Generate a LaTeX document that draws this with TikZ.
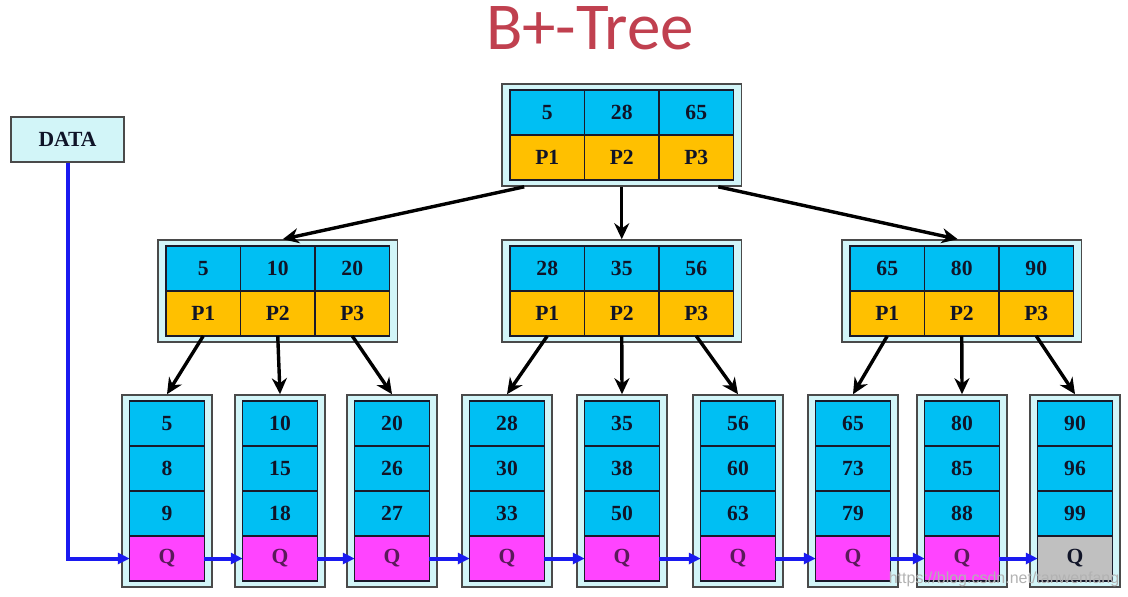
\documentclass[tikz,border=0pt]{standalone}
\usepackage{fontspec}
\setmainfont{Liberation Serif}
\newfontfamily\titlefont{Carlito}
\newfontfamily\markfont{Liberation Sans}
\usetikzlibrary{arrows.meta, positioning, fit, backgrounds}
\definecolor{keyblue}{HTML}{00BFF3}
\definecolor{ptrgold}{HTML}{FFC000}
\definecolor{qpink}{HTML}{FF44FF}
\definecolor{endgray}{HTML}{C0C0C0}
\definecolor{framecyan}{HTML}{D2F5F8}
\definecolor{framegray}{HTML}{4A4A4A}
\definecolor{cellline}{HTML}{1A1A2A}
\definecolor{textnavy}{HTML}{101428}
\definecolor{qtext}{HTML}{5A1A5A}
\definecolor{linkblue}{HTML}{1A1AF0}
\definecolor{titlered}{HTML}{C0404F}
\tikzset{
  keycell/.style={rectangle, draw=cellline, fill=keyblue, text=textnavy, line width=0.7pt, minimum width=37.25pt, minimum height=22.5pt, inner sep=0pt, outer sep=0pt, font=\fontsize{10.8pt}{12pt}\selectfont\bfseries},
  ptrcell/.style={keycell, fill=ptrgold},
  nodeframe/.style={rectangle, draw=framegray, fill=framecyan, line width=0.8pt, inner xsep=4pt, inner ysep=3pt},
  databox/.style={rectangle, draw=framegray, fill=framecyan, text=textnavy, line width=0.8pt, minimum width=56.5pt, minimum height=22.5pt, font=\fontsize{10.8pt}{12pt}\selectfont\bfseries},
  arrow/.style={-{Stealth[length=8pt, width=7.5pt]}, line width=1.7pt, color=black},
  link/.style={-{Triangle[length=6pt, width=5.5pt]}, line width=2pt, color=linkblue},
}

\begin{document}
\begin{tikzpicture}[x=0.5pt, y=-0.5pt]
  \useasboundingbox (0,0) rectangle (1128,596);
  \node[font=\titlefont\fontsize{33.5pt}{36pt}\selectfont, text=titlered] (title) at (590,28) {B+-Tree};
  % root node
  \node[keycell] (rk1) at (547.25,112.5) {5};
  \node[keycell, right=0pt of rk1] (rk2) {28};
  \node[keycell, right=0pt of rk2] (rk3) {65};
  \node[ptrcell, below=0pt of rk1] (rp1) {P1};
  \node[ptrcell, below=0pt of rk2] (rp2) {P2};
  \node[ptrcell, below=0pt of rk3] (rp3) {P3};
  % inner nodes
  \node[keycell] (ak1) at (203.25,268.5) {5};
  \node[keycell, right=0pt of ak1] (ak2) {10};
  \node[keycell, right=0pt of ak2] (ak3) {20};
  \node[ptrcell, below=0pt of ak1] (ap1) {P1};
  \node[ptrcell, below=0pt of ak2] (ap2) {P2};
  \node[ptrcell, below=0pt of ak3] (ap3) {P3};
  \node[keycell] (bk1) at (547.25,268.5) {28};
  \node[keycell, right=0pt of bk1] (bk2) {35};
  \node[keycell, right=0pt of bk2] (bk3) {56};
  \node[ptrcell, below=0pt of bk1] (bp1) {P1};
  \node[ptrcell, below=0pt of bk2] (bp2) {P2};
  \node[ptrcell, below=0pt of bk3] (bp3) {P3};
  \node[keycell] (ck1) at (887.25,268.5) {65};
  \node[keycell, right=0pt of ck1] (ck2) {80};
  \node[keycell, right=0pt of ck2] (ck3) {90};
  \node[ptrcell, below=0pt of ck1] (cp1) {P1};
  \node[ptrcell, below=0pt of ck2] (cp2) {P2};
  \node[ptrcell, below=0pt of ck3] (cp3) {P3};
  \begin{scope}[on background layer]
    \node[nodeframe, fit=(rk1)(rp3)] (rootf) {};
    \node[nodeframe, fit=(ak1)(ap3)] (af) {};
    \node[nodeframe, fit=(bk1)(bp3)] (bf) {};
    \node[nodeframe, fit=(ck1)(cp3)] (cf) {};
  \end{scope}
  % leaves
  \foreach \i/\x/\a/\b/\c/\qc/\qt in {1/167/5/8/9/qpink/qtext, 2/280/10/15/18/qpink/qtext, 3/392/20/26/27/qpink/qtext, 4/507/28/30/33/qpink/qtext, 5/622/35/38/50/qpink/qtext, 6/738/56/60/63/qpink/qtext, 7/853/65/73/79/qpink/qtext, 8/962/80/85/88/qpink/qtext, 9/1075/90/96/99/endgray/textnavy}{
    \node[keycell] (la\i) at (\x,423.5) {\a};
    \node[keycell, below=0pt of la\i] (lb\i) {\b};
    \node[keycell, below=0pt of lb\i] (lc\i) {\c};
    \node[keycell, fill=\qc, text=\qt, below=0pt of lc\i] (lq\i) {Q};
    \begin{scope}[on background layer]
      \node[nodeframe, fit=(la\i)(lq\i)] (lf\i) {};
    \end{scope}
  }
  \node[databox] (data) at (67.5,139.5) {DATA};
  \draw[arrow] ([xshift=11.5pt]rootf.south west) -- ([xshift=2.5pt]af.north);
  \draw[arrow] (rootf.south) -- (bf.north);
  \draw[arrow] ([xshift=-12pt]rootf.south east) -- ([xshift=-2pt]cf.north);
  \draw[arrow] (ap1.south) -- (lf1.north);
  \draw[arrow] (ap2.south) -- (lf2.north);
  \draw[arrow] (ap3.south) -- (lf3.north);
  \draw[arrow] (bp1.south) -- (lf4.north);
  \draw[arrow] (bp2.south) -- (lf5.north);
  \draw[arrow] (bp3.south) -- (lf6.north);
  \draw[arrow] (cp1.south) -- (lf7.north);
  \draw[arrow] (cp2.south) -- (lf8.north);
  \draw[arrow] (cp3.south) -- (lf9.north);
  \draw[link] (data.south) -- (data.south |- lq1.west) -- (lq1.west);
  \foreach \i/\j in {1/2, 2/3, 3/4, 4/5, 5/6, 6/7, 7/8, 8/9}
    \draw[link] (lq\i) -- (lq\j);
  \node[font=\markfont\fontsize{8pt}{9pt}\selectfont, text=gray!60] (mark) at (1004,579) {https://blog.csdn.net/tanwenfang};
\end{tikzpicture}
\end{document}
